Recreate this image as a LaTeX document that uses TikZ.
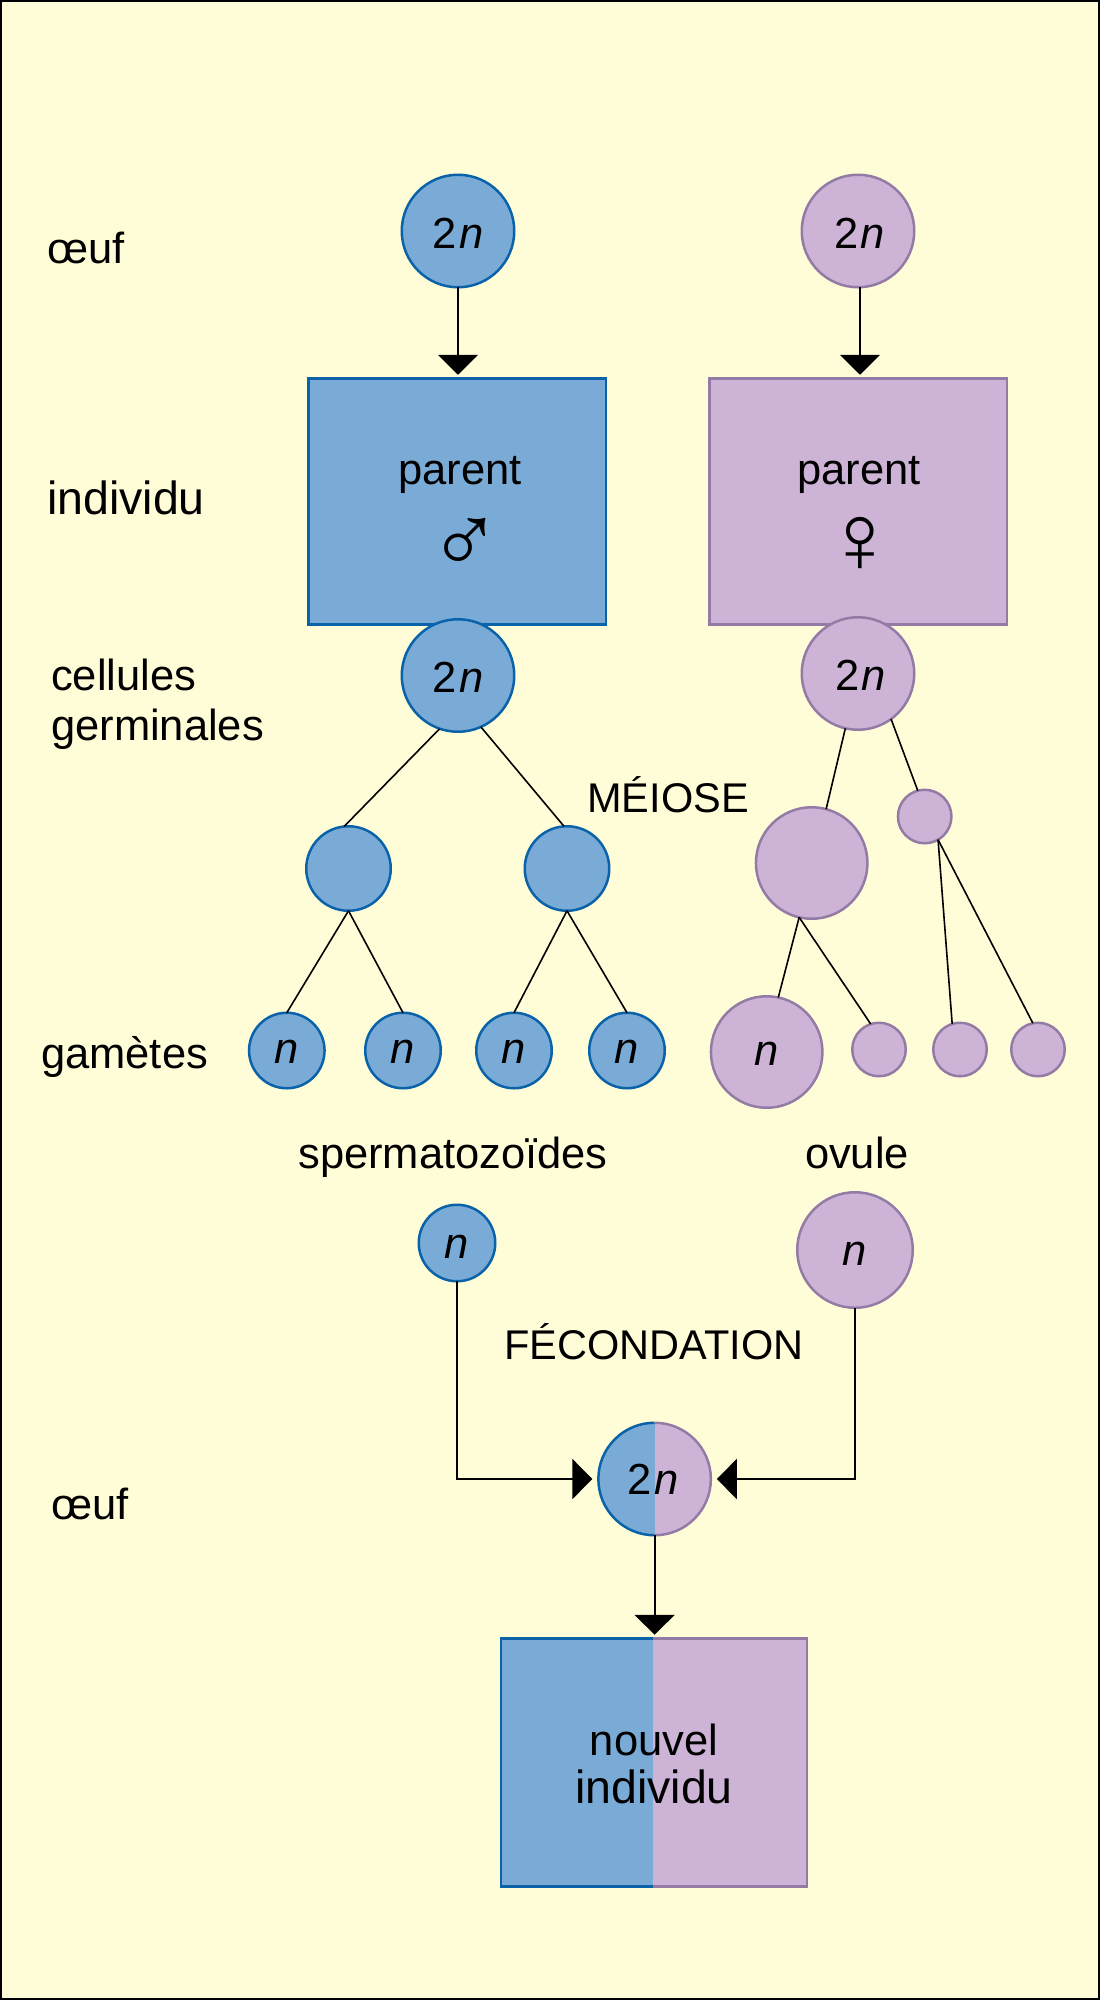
\documentclass[tikz,border=0pt]{standalone}
\usepackage{fontspec}
\setmainfont{Liberation Sans}
\usetikzlibrary{arrows.meta,positioning}
\definecolor{bgc}{HTML}{FFFDD8}
\definecolor{bluef}{HTML}{7AABD7}
\definecolor{blued}{HTML}{0A62A9}
\definecolor{purpf}{HTML}{CDB4D6}
\definecolor{purpd}{HTML}{947BA6}
\newcommand{\twon}{2\kern2pt\textit{n}}

\begin{document}
\begin{tikzpicture}[x=1pt, y=-1pt, font=\fontsize{43.5}{48}\selectfont]
    \tikzset{
        cell/.style     =   { circle
                            , inner sep=0pt
                            , outer sep=0pt
                            , line width=2.5pt
        }
        , bc/.style     =   { cell
                            , fill=bluef
                            , draw=blued
        }
        , pc/.style     =   { cell
                            , fill=purpf
                            , draw=purpd
        }
        , two/.style    =   { text height=34pt
                            , text depth=0pt
        }
        , one/.style    =   { text height=26pt
                            , text depth=0pt
        }
        , low/.style    =   { text height=31pt
                            , text depth=0pt
        }
        , box/.style    =   { rectangle
                            , inner sep=0pt
                            , outer sep=0pt
                            , line width=2.5pt
        }
        , lab/.style    =   { anchor=base west
                            , inner sep=0pt
        }
        , mid/.style    =   { anchor=base
                            , inner sep=0pt
        }
        , caps/.style   =   { mid
                            , font=\fontsize{41.5}{46}\selectfont
        }
        , wide/.style   =   { font=\fontsize{46.5}{50}\selectfont
        }
        , sym/.style    =   { mid
                            , font=\fontsize{98}{98}\selectfont
        }
        , arrow/.style  =   { line width=2pt
                            , -{Triangle[length=20pt,width=40pt]}
                            , shorten >=3.5pt
        }
        , side/.style   =   { arrow
                            , shorten >=6pt
        }
        , link/.style   =   { line width=1.6pt
        }
    }
    \useasboundingbox (0,0) rectangle (1100,2000);
    \draw[fill=bgc, draw=black, line width=2pt] (1,1) rectangle (1099,1999);

    % male side
    \node(a0)[bc, two, minimum size=112.5pt] at (458,231) {\twon};
    \node(a1)[box, fill=bluef, draw=blued, minimum width=297.5pt, minimum height=246.2pt, below=91pt of a0, xshift=-1pt] {};
    \node(a2)[bc, two, minimum size=112.5pt, below=-5.2pt of a1, xshift=1pt] {\twon};
    \node(a3)[bc, minimum size=84.5pt, below=94.5pt of a2, xshift=-109.5pt] {};
    \node(a4)[bc, minimum size=84.5pt, below=94.5pt of a2, xshift=109pt] {};
    \node(a5)[bc, one, minimum size=75.5pt, below=102pt of a3, xshift=-61.7pt] {\textit{n}};
    \node(a6)[bc, one, minimum size=75.5pt, below=102pt of a3, xshift=54.5pt] {\textit{n}};
    \node(a7)[bc, one, minimum size=75.5pt, below=102pt of a4, xshift=-53pt] {\textit{n}};
    \node(a8)[bc, one, minimum size=75.5pt, below=102pt of a4, xshift=60pt] {\textit{n}};

    % female side
    \node(b0)[pc, two, minimum size=112.5pt] at (858,231) {\kern3pt\twon};
    \node(b1)[box, fill=purpf, draw=purpd, minimum width=297.5pt, minimum height=246.2pt, below=91pt of b0] {};
    \node(b2)[pc, two, minimum size=112.5pt, below=-7.2pt of b1] {\kern5pt\twon};
    \node(b3)[pc, minimum size=111.5pt, below=77.5pt of b2, xshift=-46.3pt] {};
    \node(b4)[pc, minimum size=53.5pt, below=60pt of b2, xshift=66.7pt] {};
    \node(b5)[pc, one, minimum size=111.5pt, below=77.5pt of b3, xshift=-45pt] {\textit{n}};
    \node(b6)[pc, minimum size=53.5pt, below=104pt of b3, xshift=67.3pt] {};
    \node(b7)[pc, minimum size=53.5pt, below=179.5pt of b4, xshift=35.3pt] {};
    \node(b8)[pc, minimum size=53.5pt, below=179.5pt of b4, xshift=113.3pt] {};

    % fertilisation
    \node(s)[bc, low, minimum size=76.5pt] at (457,1243) {\textit{n}};
    \node(o)[pc, low, minimum size=115.5pt] at (855,1250) {\textit{n}};
    \node(f)[cell, minimum size=112.5pt, path picture={
        \fill[bluef] (path picture bounding box.north west) rectangle (path picture bounding box.south);
        \fill[purpf] (path picture bounding box.north) rectangle (path picture bounding box.south east);
    }] at (654.6,1479) {};
    \draw[blued, line width=2.5pt] (f.north) arc[start angle=90, end angle=270, radius=56.25pt];
    \draw[purpd, line width=2.5pt] (f.north) arc[start angle=90, end angle=-90, radius=56.25pt];
    \node(ft)[mid] at (653,1494) {\twon};

    \node(c0)[box, fill=bluef, minimum width=151.75pt, minimum height=248pt, below=103pt of f, xshift=-77.5pt] {};
    \node(c1)[box, fill=purpf, minimum width=153.75pt, minimum height=248pt, below=103pt of f, xshift=75.3pt] {};
    \draw[blued, line width=2.5pt] (c0.north east) -- (c0.north west) -- (c0.south west) -- (c0.south east);
    \draw[purpd, line width=2.5pt] (c1.north west) -- (c1.north east) -- (c1.south east) -- (c1.south west);

    % labels
    \node(l0)[lab] at (47,263)   {œuf};
    \node(l1)[lab, wide] at (47,514) {individu};
    \node(l2)[lab] at (51,690)   {cellules};
    \node(l3)[lab] at (51,740)   {germinales};
    \node(l4)[lab] at (41,1068)  {gamètes};
    \node(l5)[lab] at (51,1519)  {œuf};
    \node(l6)[mid] at (453,1168) {spermatozoïdes};
    \node(l7)[mid] at (857,1168) {ovule};
    \node(l8)[caps] at (668,812)  {MÉIOSE};
    \node(l9)[caps] at (654,1359) {FÉCONDATION};
    \node(p0)[mid] at (460,484)  {parent};
    \node(p1)[mid] at (859,484)  {parent};
    \node(g0)[sym] at (465,573)  {♂};
    \node(g1)[sym] at (860,572)  {♀};
    \node(t0)[mid] at (654,1755) {nouvel};
    \node(t1)[mid, wide] at (654,1803) {individu};

    % connectors
    \draw[arrow] (a0.south) -- (a0.south |- a1.north);
    \draw[arrow] ([xshift=2pt]b0.south) -- ([xshift=2pt]b1.north);
    \draw[link]  (a2.-109) -- (a3.96);
    \draw[link]  (a2.-66)  -- (a4.94);
    \draw[link]  (a3.south) -- (a5.north);
    \draw[link]  (a3.south) -- (a6.north);
    \draw[link]  (a4.south) -- (a7.north);
    \draw[link]  (a4.south) -- (a8.north);
    \draw[link]  (b2.-103) -- (b3.75);
    \draw[link]  (b2.-54)  -- (b4.105);
    \draw[link]  (b3.-103) -- (b5.78);
    \draw[link]  (b3.-103) -- (b6.108);
    \draw[link]  (b4.-60)  -- (b7.107);
    \draw[link]  (b4.-60)  -- (b8.101);
    \draw[side]  (s.south) |- (f.west);
    \draw[side]  (o.south) |- (f.east);
    \draw[arrow] (f.south) -- (f.south |- c0.north);
\end{tikzpicture}
\end{document}
